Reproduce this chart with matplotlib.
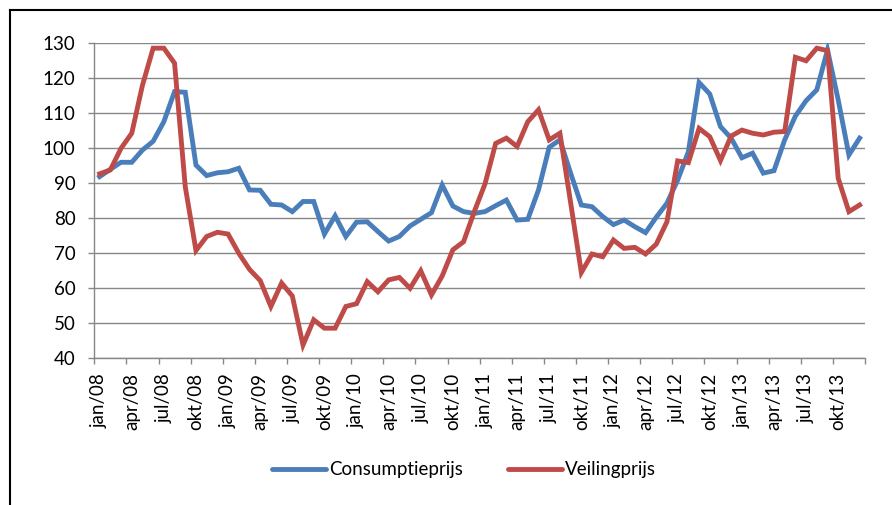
import matplotlib
matplotlib.use("Agg")
import matplotlib.pyplot as plt
from matplotlib.lines import Line2D

# monthly index, jan/08 .. dec/13
months = ['jan', 'feb', 'mrt', 'apr', 'mei', 'jun', 'jul', 'aug', 'sep', 'okt', 'nov', 'dec']
years = ['08', '09', '10', '11', '12', '13']
categories = [m + '/' + y for y in years for m in months]

consumptieprijs = [
    91.9, 94.0, 96.0, 96.0, 99.5, 102.0, 107.6, 116.2, 116.0, 95.2, 92.2, 93.0,
    93.3, 94.3, 88.1, 88.0, 84.0, 83.8, 81.9, 84.8, 84.8, 75.5, 80.7, 74.8,
    78.9, 79.0, 76.2, 73.5, 74.8, 77.8, 79.7, 81.6, 89.5, 83.5, 81.9, 81.4,
    81.9, 83.6, 85.2, 79.5, 79.7, 88.1, 100.3, 102.4, 92.9, 83.8, 83.3, 80.5,
    78.2, 79.5, 77.6, 75.9, 80.3, 84.3, 90.9, 99.0, 118.8, 115.5, 106.2, 102.9,
    97.3, 98.6, 92.9, 93.6, 102.4, 109.2, 113.6, 116.7, 128.1, 113.8, 98.1, 102.9,
]
veilingprijs = [
    92.7, 93.8, 100.0, 104.3, 118.0, 128.6, 128.6, 124.3, 89.0, 70.8, 74.8, 76.0,
    75.5, 70.0, 65.4, 62.2, 54.8, 61.5, 57.8, 43.8, 51.0, 48.6, 48.6, 54.8,
    55.6, 61.9, 59.0, 62.4, 63.1, 60.0, 65.0, 58.1, 63.5, 71.0, 73.3, 81.9,
    89.8, 101.4, 102.9, 100.5, 107.6, 111.0, 102.4, 104.3, 84.5, 64.5, 69.8, 69.0,
    73.8, 71.4, 71.7, 69.8, 72.6, 79.0, 96.4, 95.9, 105.7, 103.3, 96.5, 103.5,
    105.2, 104.3, 103.8, 104.6, 104.8, 126.0, 125.0, 128.6, 127.9, 91.4, 81.9, 83.8,
]
series_names = ['Consumptieprijs', 'Veilingprijs']
colors = ['#4A7EBB', '#BE4B48']
yticks = [40, 50, 60, 70, 80, 90, 100, 110, 120, 130]

plt.rcParams['font.family'] = ['Lato', 'DejaVu Sans']
fs = 13.5

fig = plt.figure(figsize=(8.92, 5.05), dpi=100)
ax = fig.add_axes([0.1057, 0.2905, 0.9697 - 0.1057, 0.9143 - 0.2905])

x = list(range(len(categories)))
ax.plot(x, consumptieprijs, color=colors[0], lw=3.5, solid_joinstyle='miter', zorder=3)
ax.plot(x, veilingprijs, color=colors[1], lw=3.5, solid_joinstyle='miter', zorder=3)

ax.set_xlim(-0.5, len(categories) - 0.5)
ax.set_ylim(40, 130)
ax.set_yticks(yticks)
ax.yaxis.grid(True, color='#878787', lw=1.0)
ax.set_axisbelow(True)

# labels every quarter, tick marks on category boundaries
ax.set_xticks(x[::3])
ax.set_xticklabels(categories[::3], rotation=90)
ax.set_xticks([i - 0.5 for i in range(0, len(categories) + 1, 3)], minor=True)
ax.tick_params(axis='x', which='major', length=0, pad=10.5, labelsize=fs)
ax.tick_params(axis='x', which='minor', length=4.5, color='#878787', width=1.0, direction='out')
ax.tick_params(axis='y', length=4.5, color='#878787', width=1.0, pad=9, labelsize=fs)

for s in ['top', 'right']:
    ax.spines[s].set_visible(False)
for s in ['left', 'bottom']:
    ax.spines[s].set_color('#878787')
    ax.spines[s].set_linewidth(1.0)

handles = [Line2D([], [], color=c, lw=3.5, solid_capstyle='round') for c in colors]
fig.legend(handles, series_names, loc='center', bbox_to_anchor=(0.52, 1 - 470 / 505),
           ncol=2, frameon=False, fontsize=fs, handlelength=2.9, handletextpad=0.15,
           columnspacing=2.4)

# outer chart border (clipped at right and bottom)
fig.add_artist(Line2D([10 / 892, 10 / 892], [0, 1 - 10 / 505], color='black', lw=1.5,
                      transform=fig.transFigure))
fig.add_artist(Line2D([10 / 892, 1], [1 - 10 / 505, 1 - 10 / 505], color='black', lw=1.5,
                      transform=fig.transFigure))

fig.savefig('out.png', dpi=100)
